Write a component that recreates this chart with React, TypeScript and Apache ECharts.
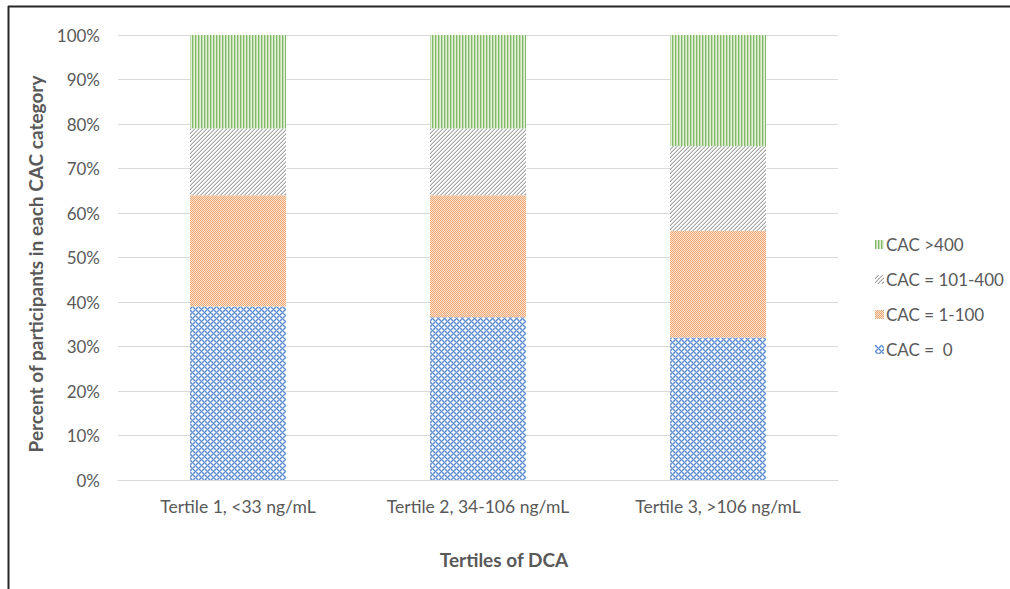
import React, { useEffect, useRef } from "react";
import * as echarts from "echarts";

const categories = ["Tertile 1, <33 ng/mL", "Tertile 2, 34-106 ng/mL", "Tertile 3, >106 ng/mL"];
const seriesNames = ["CAC =  0", "CAC = 1-100", "CAC = 101-400", "CAC >400"];
const cac0 = [39, 36.6, 32];
const cac1to100 = [25, 27.4, 24];
const cac101to400 = [15, 15, 19];
const cac400 = [21, 21, 25];
const yTicks = { min: 0, max: 100, interval: 10 };
const xTitle = "Tertiles of DCA";
const yTitle = "Percent of participants in each CAC category";

function makePattern(w: number, h: number, fn: (x: number, y: number) => string) {
  const c = document.createElement("canvas");
  c.width = w;
  c.height = h;
  const ctx = c.getContext("2d")!;
  for (let y = 0; y < h; y++) {
    for (let x = 0; x < w; x++) {
      ctx.fillStyle = fn(x, y);
      ctx.fillRect(x, y, 1, 1);
    }
  }
  return { image: c, repeat: "repeat", imageWidth: w, imageHeight: h } as any;
}

export default function App() {
  const ref = useRef<HTMLDivElement>(null);
  useEffect(() => {
    if (!ref.current) return;
    const chart = echarts.init(ref.current, undefined, { renderer: "svg" });

    const blue = makePattern(6, 6, (x, y) => {
      const whites = ["3,0", "2,0", "4,0", "3,1", "3,5", "0,3", "1,3", "5,3", "0,2", "0,4"];
      if (whites.includes(x + "," + y)) return "#ffffff";
      if ((x - y + 6) % 6 === 0 || (x + y) % 6 === 0) return "#5f8bcf";
      return "#a8c3e9";
    });
    const orange = makePattern(2, 2, (x, y) => ((x + y) % 2 === 0 ? "#f0a772" : "#fce2d0"));
    const gray = makePattern(4, 4, (x, y) => {
      const d = (x + y) % 4;
      if (d === 3) return "#a6a6a6";
      if (d === 2) return "#d4d4d4";
      return "#ffffff";
    });
    const green = makePattern(3, 1, (x) => (x === 0 ? "#82b968" : x === 1 ? "#c0ddae" : "#e4f0dc"));

    const fills = [blue, orange, gray, green];
    const dataSets = [cac0, cac1to100, cac101to400, cac400];
    const font = "Lato, 'Open Sans', sans-serif";

    chart.setOption({
      animation: false,
      backgroundColor: "#ffffff",
      textStyle: { fontFamily: font },
      grid: { left: 118, right: 172, top: 35, bottom: 109 },
      legend: {
        orient: "vertical",
        left: 870,
        top: 231,
        itemWidth: 9,
        itemHeight: 9,
        itemGap: 18,
        icon: "rect",
        data: ["CAC >400", "CAC = 101-400", "CAC = 1-100", "CAC =  0"],
        textStyle: { color: "#595959", fontSize: 17, fontFamily: font, padding: [0, 0, 0, -3] },
      },
      xAxis: {
        type: "category",
        data: categories,
        axisTick: { show: false },
        axisLine: { lineStyle: { color: "#d9d9d9", width: 1 } },
        axisLabel: { color: "#595959", fontSize: 17.5, margin: 17 },
      },
      yAxis: {
        type: "value",
        min: yTicks.min,
        max: yTicks.max,
        interval: yTicks.interval,
        axisLine: { show: false },
        axisTick: { show: false },
        splitLine: { lineStyle: { color: "#d9d9d9", width: 1 } },
        axisLabel: { color: "#595959", fontSize: 17, margin: 18, formatter: "{value}%" },
      },
      series: seriesNames.map((name, i) => ({
        name,
        type: "bar",
        stack: "total",
        barWidth: "40%",
        data: dataSets[i],
        itemStyle: { color: fills[i] },
      })),
      graphic: [
        { type: "line", shape: { x1: 8, y1: 6.5, x2: 1010, y2: 6.5 }, style: { stroke: "#262626", lineWidth: 2 } },
        { type: "line", shape: { x1: 8.5, y1: 6, x2: 8.5, y2: 589 }, style: { stroke: "#262626", lineWidth: 2 } },
        {
          type: "text",
          x: 504,
          y: 559,
          style: {
            text: xTitle,
            fill: "#595959",
            font: "bold 19px Lato, 'Open Sans', sans-serif",
            textAlign: "center",
            textVerticalAlign: "middle",
          },
        },
        {
          type: "text",
          x: 35,
          y: 264,
          rotation: Math.PI / 2,
          style: {
            text: yTitle,
            fill: "#595959",
            font: "bold 19px Lato, 'Open Sans', sans-serif",
            textAlign: "center",
            textVerticalAlign: "middle",
          },
        },
      ],
    });
    return () => chart.dispose();
  }, []);
  return (
    <div
      ref={ref}
      style={{ position: "fixed", left: 0, top: 0, width: 1010, height: 589, background: "#fff" }}
    />
  );
}
